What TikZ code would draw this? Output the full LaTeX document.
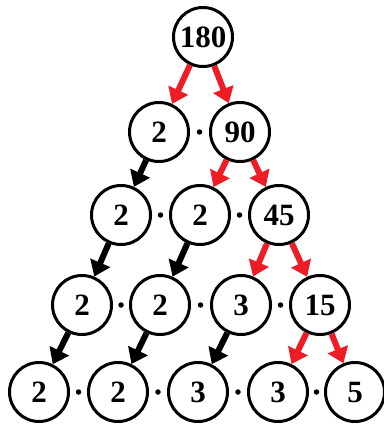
\documentclass[tikz,border=0pt]{standalone}
\usepackage{fontspec}
\setmainfont{Liberation Serif}
\usetikzlibrary{arrows.meta,calc}
\definecolor{arrred}{HTML}{EE1C25}
\tikzset{
  num/.style={circle,draw=black,line width=3pt,minimum size=59pt,inner sep=0pt,
    font=\bfseries\fontsize{31}{31}\selectfont},
  dotmark/.style={circle,fill=black,inner sep=0pt,minimum size=5.5pt},
  redarr/.style={draw=arrred,line width=6pt,-{Triangle[width=21pt,length=15pt]},arrred},
  blkarr/.style={draw=black,line width=6pt,-{Triangle[width=21pt,length=15pt]}},
}
\begin{document}
\begin{tikzpicture}[x=1pt,y=-1pt]
\useasboundingbox (0,0) rectangle (383,428);
\fill[white] (0,0) rectangle (383,428);
% row 0
\node[num] (r) at (203,37) {180};
% row 1
\node[num] (a1) at (159,132) {2};
\node[num] (a2) at (240,132) {90};
% row 2
\node[num] (b1) at (121,215) {2};
\node[num] (b2) at (200,215) {2};
\node[num] (b3) at (279,215) {45};
% row 3
\node[num] (c1) at (82,305) {2};
\node[num] (c2) at (160,305) {2};
\node[num] (c3) at (241,305) {3};
\node[num] (c4) at (320,305) {15};
% row 4
\node[num] (d1) at (39,392) {2};
\node[num] (d2) at (118,392) {2};
\node[num] (d3) at (198,392) {3};
\node[num] (d4) at (278,392) {3};
\node[num] (d5) at (355,392) {5};
% dots
\node[dotmark] (m1) at ($(a1)!0.5!(a2)$) {};
\node[dotmark] (m2) at ($(b1)!0.5!(b2)$) {};
\node[dotmark] (m3) at ($(b2)!0.5!(b3)$) {};
\node[dotmark] (m4) at ($(c1)!0.5!(c2)$) {};
\node[dotmark] (m5) at ($(c2)!0.5!(c3)$) {};
\node[dotmark] (m6) at ($(c3)!0.5!(c4)$) {};
\node[dotmark] (m7) at ($(d1)!0.5!(d2)$) {};
\node[dotmark] (m8) at ($(d2)!0.5!(d3)$) {};
\node[dotmark] (m9) at ($(d3)!0.5!(d4)$) {};
\node[dotmark] (m10) at ($(d4)!0.5!(d5)$) {};
% red arrows
\draw[redarr] (r) -- (a1);
\draw[redarr] (r) -- (a2);
\draw[redarr] (a2) -- (b2);
\draw[redarr] (a2) -- (b3);
\draw[redarr] (b3) -- (c3);
\draw[redarr] (b3) -- (c4);
\draw[redarr] (c4) -- (d4);
\draw[redarr] (c4) -- (d5);
% black arrows
\draw[blkarr] (a1) -- (b1);
\draw[blkarr] (b1) -- (c1);
\draw[blkarr] (b2) -- (c2);
\draw[blkarr] (c1) -- (d1);
\draw[blkarr] (c2) -- (d2);
\draw[blkarr] (c3) -- (d3);
\end{tikzpicture}
\end{document}
